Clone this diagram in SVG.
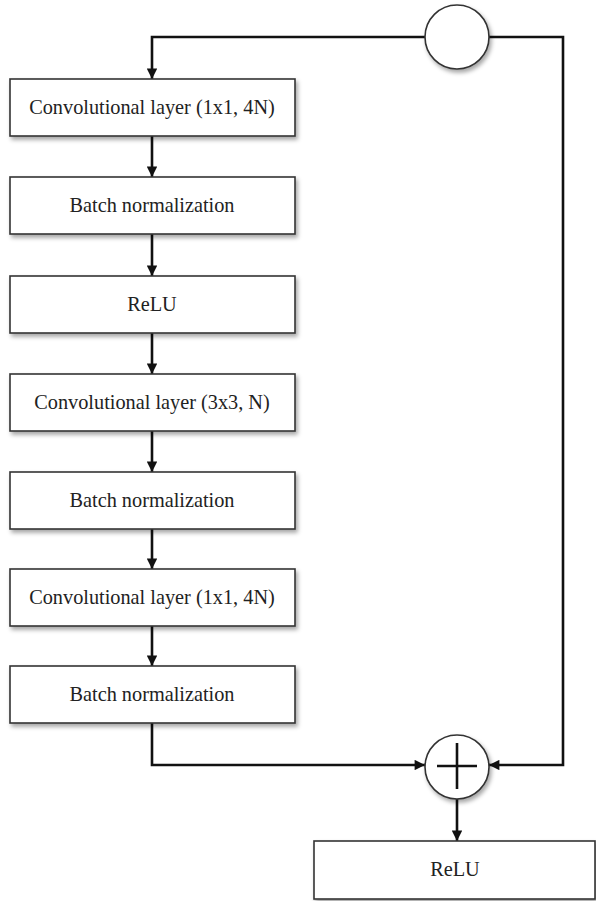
<svg xmlns="http://www.w3.org/2000/svg" width="596" height="901" viewBox="0 0 596 901">
<style>
.box{fill:#fff;stroke:#333;stroke-width:1.6;filter:url(#sh)}
.circ{fill:#fff;stroke:#333;stroke-width:1.6;filter:url(#sh)}
.lbl{font-family:"Liberation Serif","Times New Roman",serif;font-size:20.3px;fill:#222;text-anchor:middle}
.edge{fill:none;stroke:#111;stroke-width:2.6;marker-end:url(#ah)}
.plus{stroke:#111;stroke-width:2.6}
</style>
<defs>
<filter id="sh" x="-10%" y="-10%" width="130%" height="140%">
<feDropShadow dx="2" dy="3" stdDeviation="2" flood-color="#000" flood-opacity="0.35"/>
</filter>
<marker id="ah" viewBox="0 0 10 10" refX="10" refY="5" markerWidth="4.4" markerHeight="4" orient="auto" markerUnits="strokeWidth">
<path d="M0,0 L10,5 L0,10 z" fill="#111"/>
</marker>
</defs>
<g id="connectors">
<path class="edge" d="M425,37 H152 V79"/>
<path class="edge" d="M152,136 V177"/>
<path class="edge" d="M152,234 V276"/>
<path class="edge" d="M152,333 V374"/>
<path class="edge" d="M152,431 V472"/>
<path class="edge" d="M152,529 V569"/>
<path class="edge" d="M152,626 V666"/>
<path class="edge" d="M152,723 V765 H425"/>
<path class="edge" d="M488,37 H563 V765 H489"/>
<path class="edge" d="M457,799 V841"/>
</g>
<g id="split">
<circle class="circ" cx="457" cy="37" r="32"/>
</g>
<g id="conv1">
<rect class="box" x="10" y="79" width="285" height="57"/>
<text class="lbl" x="152" y="114">Convolutional layer (1x1, 4N)</text>
</g>
<g id="bn1">
<rect class="box" x="10" y="177" width="285" height="57"/>
<text class="lbl" x="152" y="212">Batch normalization</text>
</g>
<g id="relu1">
<rect class="box" x="10" y="276" width="285" height="57"/>
<text class="lbl" x="152" y="311">ReLU</text>
</g>
<g id="conv2">
<rect class="box" x="10" y="374" width="285" height="57"/>
<text class="lbl" x="152" y="409">Convolutional layer (3x3, N)</text>
</g>
<g id="bn2">
<rect class="box" x="10" y="472" width="285" height="57"/>
<text class="lbl" x="152" y="507">Batch normalization</text>
</g>
<g id="conv3">
<rect class="box" x="10" y="569" width="285" height="57"/>
<text class="lbl" x="152" y="604">Convolutional layer (1x1, 4N)</text>
</g>
<g id="bn3">
<rect class="box" x="10" y="666" width="285" height="57"/>
<text class="lbl" x="152" y="701">Batch normalization</text>
</g>
<g id="add">
<circle class="circ" cx="457" cy="767" r="32"/>
<line class="plus" x1="437" y1="766" x2="477" y2="766"/>
<line class="plus" x1="457" y1="743" x2="457" y2="789"/>
</g>
<g id="relu2">
<rect class="box" x="314" y="841" width="281" height="58"/>
<text class="lbl" x="455" y="876">ReLU</text>
</g>
</svg>
